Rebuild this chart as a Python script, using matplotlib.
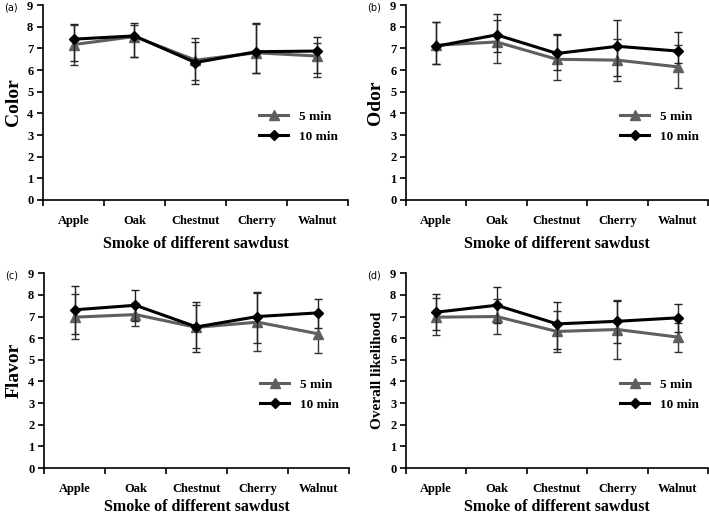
import numpy as np
import matplotlib.pyplot as plt

woods = ['Apple', 'Oak', 'Chestnut', 'Cherry', 'Walnut']
y_labels = ['Color', 'Odor', 'Flavor', 'Overall likelihood']
tags = ['(a)', '(b)', '(c)', '(d)']

# means and error-bar ends, one row per panel
mean_5 = [[7.18, 7.55, 6.46, 6.80, 6.65],
          [7.15, 7.30, 6.50, 6.46, 6.15],
          [6.97, 7.09, 6.50, 6.74, 6.20],
          [6.97, 7.00, 6.31, 6.40, 6.05]]
hi_5 = [[8.08, 8.08, 7.49, 8.15, 7.26],
        [8.20, 8.31, 7.62, 7.46, 7.18],
        [8.05, 7.61, 7.54, 8.10, 7.10],
        [7.86, 7.80, 7.25, 7.75, 6.72]]
lo_5 = [[6.23, 6.62, 5.54, 5.85, 5.66],
        [6.26, 6.35, 5.54, 5.48, 5.15],
        [5.94, 6.57, 5.54, 5.40, 5.30],
        [6.15, 6.20, 5.35, 5.05, 5.38]]

mean_10 = [[7.43, 7.58, 6.35, 6.85, 6.88],
           [7.10, 7.63, 6.77, 7.10, 6.88],
           [7.31, 7.52, 6.52, 7.00, 7.17],
           [7.20, 7.52, 6.66, 6.78, 6.94]]
hi_10 = [[8.12, 8.18, 7.30, 8.18, 7.54],
         [8.20, 8.57, 7.68, 8.31, 7.74],
         [8.43, 8.23, 7.69, 8.15, 7.82],
         [8.05, 8.35, 7.69, 7.74, 7.58]]
lo_10 = [[6.42, 6.60, 5.34, 5.85, 5.88],
         [6.30, 6.82, 6.00, 5.74, 6.31],
         [6.20, 6.80, 5.34, 5.77, 6.48],
         [6.38, 6.69, 5.51, 5.78, 6.30]]

serif = 'Liberation Serif'
positions = [[0.0607, 0.614, 0.430, 0.376],
             [0.5726, 0.614, 0.426, 0.376],
             [0.0621, 0.0965, 0.430, 0.376],
             [0.5726, 0.0965, 0.426, 0.376]]

fig = plt.figure(figsize=(7.09, 5.18), dpi=100)
x = np.arange(len(woods))

for i in range(4):
    ax = fig.add_axes(positions[i])
    m5, m10 = np.array(mean_5[i]), np.array(mean_10[i])
    err5 = [m5 - np.array(lo_5[i]), np.array(hi_5[i]) - m5]
    err10 = [m10 - np.array(lo_10[i]), np.array(hi_10[i]) - m10]
    c5 = ax.errorbar(x, m5, yerr=err5, color='#5f5f5f', ecolor='#333333', elinewidth=1,
                     capsize=3, capthick=1, lw=2.2, marker='^', ms=7, zorder=2)
    c10 = ax.errorbar(x, m10, yerr=err10, color='black', ecolor='#222222', elinewidth=1,
                      capsize=3, capthick=1, lw=2.2, marker='D', ms=5, zorder=3)
    ax.set_xlim(-0.5, 4.5)
    ax.set_ylim(0, 9)
    ax.set_yticks(range(10))
    ax.set_xticks(x)
    ax.set_xticks(np.arange(-0.5, 5, 1), minor=True)
    ax.set_xticklabels(woods, fontfamily=serif, fontweight='bold', fontsize=9)
    ax.set_yticklabels([str(v) for v in range(10)], fontfamily=serif, fontweight='bold', fontsize=9)
    ax.tick_params(axis='x', which='major', length=0, pad=11)
    ax.tick_params(axis='x', which='minor', length=4, width=1.2)
    ax.tick_params(axis='y', length=4, width=1.2, pad=3)
    for s in ['top', 'right']:
        ax.spines[s].set_visible(False)
    for s in ['left', 'bottom']:
        ax.spines[s].set_linewidth(1.2)
    ax.set_xlabel('Smoke of different sawdust', fontfamily=serif, fontweight='bold',
                  fontsize=11.5, labelpad=6 if i < 2 else 3)
    ax.set_ylabel(y_labels[i], fontfamily=serif, fontweight='bold',
                  fontsize=11 if i == 3 else 14, labelpad=4)
    ax.legend(handles=[c5[0], c10[0]], labels=['5 min', '10 min'], loc='upper left',
              bbox_to_anchor=(0.67, 0.52), frameon=False, handlelength=2.2, labelspacing=0.6,
              prop={'family': serif, 'weight': 'bold', 'size': 9.5})
    fig.text(positions[i][0] - 0.055, positions[i][1] + positions[i][3] - 0.004, tags[i],
             fontsize=7, fontfamily='DejaVu Sans', ha='left', va='center')

fig.savefig('out.png', dpi=100)
